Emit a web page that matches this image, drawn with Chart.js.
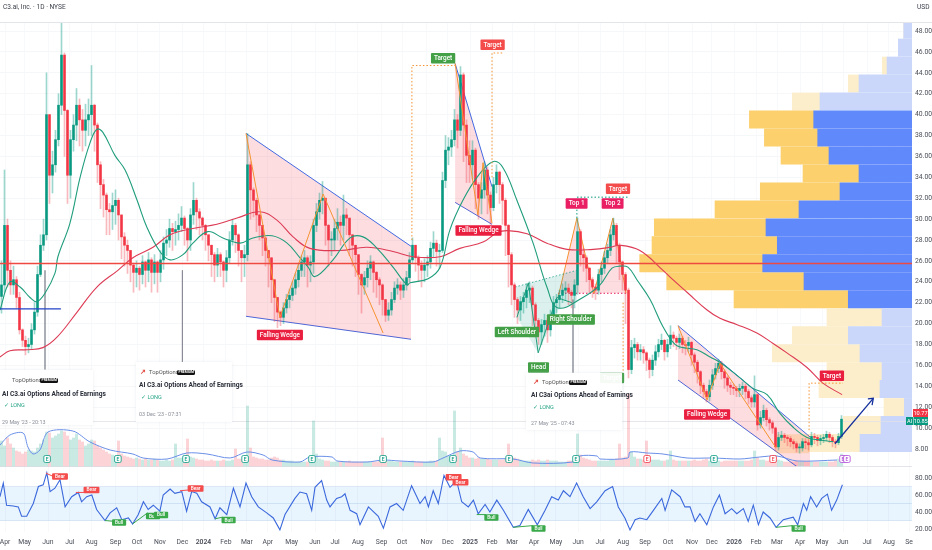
<!DOCTYPE html>
<html>
<head>
<meta charset="utf-8">
<title>C3.ai, Inc. 1D</title>
<script src="https://cdn.jsdelivr.net/npm/chart.js@4"></script>
<style>
  html, body { margin: 0; background: #fff; font-family: Roboto, "Noto Sans", sans-serif; }
  #wrap { position: relative; width: 932px; height: 550px; overflow: hidden; }
  canvas { position: absolute; left: 0; top: 0; }
  .head { position: absolute; top: 3px; font-size: 6.6px; color: #3a3e4a; white-space: nowrap; }
  .card { position: absolute; background: rgba(255,255,255,.95); box-shadow: 0 0 3px rgba(200,205,215,.35); }
  .card span { position: absolute; white-space: nowrap; }
  .who { font-size: 5.8px; color: #555; }
  .pill { font-size: 3.4px; line-height: 5px; padding: 0 1.5px; background: #111; color: #fff; border-radius: 1.5px; font-weight: 700; }
  .name { font-size: 6.6px; font-weight: 700; color: #2a2e39; }
  .side { font-size: 5.6px; color: #2aa58a; }
  .when { font-size: 5.4px; color: #8a8e99; }
  .mark { font-size: 6.5px; color: #e0483f; font-weight: 700; }
</style>
</head>
<body>
<div id="wrap">
  <canvas id="c" width="932" height="550"></canvas>
  <div class="head" style="left:3px">C3.ai, Inc. · 1D · NYSE</div>
  <div class="head" style="left:917px">USD</div>

  <div class="card" style="left:-1px;top:370px;width:94px;height:55px">
    <span class="who" style="left:13px;top:7px">TopOptions</span>
    <span class="pill" style="left:41px;top:8px">PREMIUM</span>
    <span class="name" style="left:3px;top:20px">AI C3.ai Options Ahead of Earnings</span>
    <span class="side" style="left:5px;top:32px">✓ LONG</span>
    <span class="when" style="left:3px;top:49px">29 May '23 - 20:13</span>
  </div>
  <div class="card" style="left:136px;top:362px;width:96px;height:60px">
    <span class="mark" style="left:4px;top:6px">↗</span>
    <span class="who" style="left:13px;top:7px">TopOptions</span>
    <span class="pill" style="left:41px;top:8px">PREMIUM</span>
    <span class="name" style="left:3px;top:19px">AI C3.ai Options Ahead of Earnings</span>
    <span class="side" style="left:5px;top:32px">✓ LONG</span>
    <span class="when" style="left:3px;top:49px">03 Dec '23 - 07:31</span>
  </div>
  <div class="card" style="left:526px;top:373px;width:96px;height:57px">
    <span class="mark" style="left:7px;top:5px">↗</span>
    <span class="who" style="left:16px;top:6px">TopOptions</span>
    <span class="pill" style="left:43px;top:7px">PREMIUM</span>
    <span class="name" style="left:5px;top:18px">AI C3ai Options Ahead of Earnings</span>
    <span class="side" style="left:7px;top:31px">✓ LONG</span>
    <span class="when" style="left:5px;top:47px">27 May '25 - 07:43</span>
  </div>
</div>

<script>
// x axis is in bar slots, one candle per slot
const tickSlots = [1.7,8.2,16,23.3,30.5,38.5,45.7,53.3,60.8,67.8,75.3,82.3,89.3,97.2,105,111.7,119.3,127.2,134,142.2,149.3,156.7,164,170.7,178,185.3,192.7,200,207.7,215,222.7,230.7,237.3,244.7,252,259,266.7,274,281,289,296.3,303];
const tickLabels = ['Apr','May','Jun','Jul','Aug','Sep','Oct','Nov','Dec','2024','Feb','Mar','Apr','May','Jun','Jul','Aug','Sep','Oct','Nov','Dec','2025','Feb','Mar','Apr','May','Jun','Jul','Aug','Sep','Oct','Nov','Dec','2026','Feb','Mar','Apr','May','Jun','Jul','Aug','Se'];
const priceTicks = [8,10,12,14,16,18,20,22,24,26,28,30,32,34,36,38,40,42,44,46,48];
const rsiTicks = [20,40,60,80];

const opens = [
  22.6,23.7,29.4,25.1,23.7,24.2,22.5,19.4,18.4,17.8,18,19.4,21.1,24.7,27.5,28.5,40,34.2,35.2,37.6,
  40.9,45.7,40.4,34.2,37.6,39,40.9,39.5,38.5,39.5,40,40.9,39,35.2,33.3,32.3,30.9,30.7,31.3,31.8,
  30.4,28.3,27.5,27,25.6,24.9,25.3,24.7,25.9,25.1,26.1,24.9,25.9,24.9,26.1,27.7,28,29.1,28.8,29,
  29.4,30.1,29.1,28,30.4,31.8,30.7,30.1,29.4,28.5,27.5,26.6,25.6,26.6,25.9,25.1,26.3,28,29.4,28.5,
  27,26.3,26.6,35.2,32.8,31.8,30.4,29.4,28.2,27,26.3,24.2,22.5,21.1,20.6,21.5,22.3,22.7,23.4,24.2,
  25.1,25.9,26.3,25.6,25.9,29.4,30.7,31.8,32,29.4,28,28,29.1,29.7,29.4,30.4,30.1,28.5,27.5,26.6,
  24.7,23.7,24.4,25.3,25.9,24.9,24.2,23.7,22.3,20.8,21.3,22.3,23.4,23.7,23.2,23.7,24.4,26.1,27.5,26.3,
  25.6,25.1,25.6,25.9,27.2,27.7,26.9,27,33.7,36.6,36.9,37.6,39.5,38.5,43.8,39,36.1,35.2,36.6,33.3,
  32,32.8,34.7,32.3,31.1,33.3,34.5,33.3,31.8,29.4,26.6,23.7,22.3,21.3,22.1,22.5,23.2,23.4,21.8,20.3,
  19.2,19.9,20.3,19.4,20.8,22,22.3,22.7,23.2,23.4,23,22.7,23.7,28.8,26.6,26.3,25.3,24.2,23.5,23.2,
  24.7,25.3,26.3,27,28.5,29.4,27.5,25.9,24.7,23.2,15.6,17.7,18,17.3,17.5,17.2,16.5,15.6,16.5,17.3,
  18,18.4,17.3,18,18.9,18.6,18.2,18.6,18,17.9,18.2,17,16.3,15.4,14.1,13.5,13,14.1,15.1,15.7,
  16.2,15.4,14.8,14.1,13.9,13.8,13.6,13.8,14,13.5,12.9,12.5,13.2,10.3,11,11.7,10.8,10.5,10,8.2,
  9.1,9.3,9.1,9,8.7,8.5,8.1,8.1,8.7,8.6,8.4,9.2,9.1,8.8,9,9.1,9.4,9.1,8.7,8.6,9.2
];
const highs = [
  26,34.7,30,26,25.5,24.5,23,19.5,18.8,18.6,20,22,25.5,28.5,30,44,40,36.5,38.5,42,
  48.9,45.9,40.5,38.5,40,42.5,41.5,40.5,41,41.5,44.7,41,39.2,35.5,33.8,32.5,31.5,32.5,32.8,32,
  30.4,28.7,28,27,25.8,26,25.5,26.5,26,26.8,26.3,26.6,26,27,28.3,29,30,29.6,29.8,30.5,
  31.2,30.3,29.2,31,33.5,32,31,30.2,29.5,28.5,27.5,26.8,27.2,26.8,26,27,28.8,30,29.6,28.6,
  27,27.5,38.2,35.5,33,32,30.5,29.4,28.2,27,26.3,24.2,22.5,21.2,22,22.8,23.3,24,24.8,25.8,
  26.5,27,26.5,26.5,30,31.5,32.5,33.6,32,29.5,28.8,30,31,30.3,32.3,31,30,28.5,27.5,26.5,
  24.8,25,26,26.5,26,25,24.4,23.8,22.3,22,23,24,24.3,24,24.3,25,26.8,28.2,27.5,26.5,
  26,26.2,26.5,27.8,28.8,28,27.6,34.5,38,37.8,38.5,40.5,40,44.6,44,39.5,37.5,37.5,36.8,33.5,
  33.5,35.5,35,32.6,34,35.2,34.6,33.5,32,29.5,26.8,23.9,22.5,22.6,23,23.8,24,23.6,22,20.5,
  20.4,20.9,20.5,21.3,22.6,22.8,23.2,23.8,24,23.8,23.2,24.2,30.1,29,27.2,26.5,25.4,24.4,23.8,25.2,
  25.9,26.9,27.6,29,30.1,29.6,27.7,26,24.9,23.4,18.4,18.6,18.2,18,17.8,17.3,16.7,17,17.9,18.5,
  19,18.5,18.5,19.8,19.2,18.8,19,18.8,18.4,18.7,18.3,17.2,16.5,15.5,14.3,13.7,14.6,15.6,16.2,16.6,
  16.4,15.6,15,14.4,14.2,14,14.2,14.4,14.2,13.7,13.1,15,13.3,11.6,12.2,11.9,11,10.7,10.1,9.6,
  9.7,9.5,9.3,9.2,8.9,8.7,8.5,9,9,8.9,9.6,9.5,9.3,9.3,9.4,9.7,9.6,9.3,8.9,9.5,11.2
];
const lows = [
  21,23,23.5,22.8,22.8,21.5,19,17.8,17,17.2,17.6,19,20.7,24.5,27,28,31.5,32.5,34.5,37,
  40,36,31.5,32,36.5,37.5,37,36.5,37,38,38,36.5,33.5,31,30.2,28.5,28.5,29,29.5,28,
  26.2,25.5,24.8,24,23,23.5,23.2,23.8,23.5,24,23,23.8,23,24,25.2,26.5,27.3,27,27.5,28,
  28.8,27.5,26,27,29.5,29,28.5,28,27,26,24.5,24,24.5,24.5,23.5,24,25.8,27.5,26.8,25.5,
  24,24.5,26,30,30.2,28.8,28,26.5,25.5,23.5,22,20.2,19.6,19.8,20,21,21.5,22.2,22.8,23.5,
  24.5,24.5,23.5,24,24.8,28.8,30,30.5,27.5,25.5,26.5,27,28,27.5,28,28.5,26.5,25.5,24.5,22.8,
  21,22.8,23.5,24.2,23,22.5,21.8,20.8,20.2,20.3,20.8,22,22.8,22.3,22.5,23.2,24,25.8,25,24,
  23.5,24,24.5,25.3,26.3,25.5,25.3,26.8,33,35.2,36,37,36.8,38,35.5,33.5,33.5,33.8,31,30,
  30.5,32,30.5,29.5,30.8,32.5,31.5,29.5,26.5,23.5,21.8,20.6,20,20.3,21,21.5,22,19.8,18.8,18,
  18,18.8,18.2,18.8,20,21,21.5,22,22.2,21.8,21.5,21.5,22.8,25.5,25,24,23,22.5,22.3,22.8,
  24,24.8,25.8,26.5,28,25.8,24.2,23.2,20,14.8,15.2,16.7,16.5,16.5,16.2,15.5,14.8,15,16,16.8,
  17.5,16.5,16.8,17.6,17.8,17.5,17.6,17.2,17,17.3,16,15.3,14.3,13.3,12.9,12.5,12.6,13.7,14.7,15.3,
  14.7,13.8,13.5,13.2,13.2,13,13,13.2,12.8,12.3,12,12,9.8,10,10.7,10.2,9.8,9.5,7.8,7.9,
  8.8,8.6,8.3,8.2,8,7.7,7.6,7.8,8,7.9,8.2,8.5,8.3,8.4,8.6,8.8,8.6,8.2,8.1,8.4,9
];
const closes = [
  23.7,29.4,25.1,23.7,24.2,22.5,19.4,18.4,17.8,18,19.4,21.1,24.7,27.5,28.5,40,34.2,35.2,37.6,40.9,
  45.7,40.4,34.2,37.6,39,40.9,39.5,38.5,39.5,40,40.9,39,35.2,33.3,32.3,30.9,30.7,31.3,31.8,30.4,
  28.3,27.5,27,25.6,24.9,25.3,24.7,25.9,25.1,26.1,24.9,25.9,24.9,26.1,27.7,28,29.1,28.8,29,29.4,
  30.1,29.1,28,30.4,31.8,30.7,30.1,29.4,28.5,27.5,26.6,25.6,26.6,25.9,25.1,26.3,28,29.4,28.5,27,
  26.3,26.6,35.2,32.8,31.8,30.4,29.4,28.2,27,26.3,24.2,22.5,21.1,20.6,21.5,22.3,22.7,23.4,24.2,25.1,
  25.9,26.3,25.6,25.9,29.4,30.7,31.8,32,29.4,28,28,29.1,29.7,29.4,30.4,30.1,28.5,27.5,26.6,24.7,
  23.7,24.4,25.3,25.9,24.9,24.2,23.7,22.3,20.8,21.3,22.3,23.4,23.7,23.2,23.7,24.4,26.1,27.5,26.3,25.6,
  25.1,25.6,25.9,27.2,27.7,26.9,27,33.7,36.6,36.9,37.6,39.5,38.5,43.8,39,36.1,35.2,36.6,33.3,32,
  32.8,34.7,32.3,31.1,33.3,34.5,33.3,31.8,29.4,26.6,23.7,22.3,21.3,22.1,22.5,23.2,23.4,21.8,20.3,19.2,
  19.9,20.3,19.4,20.8,22,22.3,22.7,23.2,23.4,23,22.7,23.7,28.8,26.6,26.3,25.3,24.2,23.5,23.2,24.7,
  25.3,26.3,27,28.5,29.4,27.5,25.9,24.7,23.2,15.6,17.7,18,17.3,17.5,17.2,16.5,15.6,16.5,17.3,18,
  18.4,17.3,18,18.9,18.6,18.2,18.6,18,17.9,18.2,17,16.3,15.4,14.1,13.5,13,14.1,15.1,15.7,16.2,
  15.4,14.8,14.1,13.9,13.8,13.6,13.8,14,13.5,12.9,12.5,13.2,10.3,11,11.7,10.8,10.5,10,8.2,9.1,
  9.3,9.1,9,8.7,8.5,8.1,8.1,8.7,8.6,8.4,9.2,9.1,8.8,9,9.1,9.4,9.1,8.7,8.6,9.2,10.85
];
const volumes = [
  25,20,28,22,18,15,14,12,14,16,15,14,18,22,26,34,33,28,30,32,
  35,34,30,26,28,32,26,24,20,22,26,25,20,18,16,14,12,11,10,25,
  12,10,9,8,7,8,7,6,7,6,6,7,6,5,5,6,5,6,22,8,
  8,9,27,9,8,7,6,6,5,5,6,5,5,5,6,5,5,6,17,7,
  7,8,60,18,9,8,7,7,6,6,8,9,8,6,6,5,5,5,4,4,
  4,4,4,5,45,12,7,6,5,5,4,4,4,4,4,4,5,4,4,4,
  4,4,4,4,4,4,5,28,10,5,5,4,4,4,4,4,4,5,4,4,
  4,4,4,5,5,5,28,15,14,10,9,55,14,18,12,10,8,8,7,8,
  7,7,7,6,6,6,6,6,7,22,10,8,7,6,5,5,5,6,5,6,
  5,5,6,5,5,5,4,4,4,5,5,8,32,11,8,7,6,5,5,5,
  5,5,5,6,6,7,22,8,9,72,14,9,7,7,6,25,7,6,6,6,
  5,5,6,15,6,5,5,5,5,5,5,6,5,5,6,7,5,5,5,5,
  4,5,5,5,5,5,5,5,5,5,6,15,8,6,6,5,5,5,9,6,
  5,4,4,4,4,5,4,4,4,4,4,4,4,4,4,4,4,4,5,7,12
];
const volMaSlots = [0,3.3,7.7,9.3,11,13.3,16,24.3,30,36.7,44.3,47.7,55.7,62.3,69,76.7,82.3,87.7,90.7,100,103.3,110.7,112.3,122.3,127.7,133.3,144.3,147.7,153.3,157.7,160,171,177.7,191,193.3,199,200,209.3,210,215.7,221,229,237.7,246.7,253.3,259,265.7,279];
const volMa = [21,31,33,19,12,16,34,35,24,16,12,8,7,13,12,8,14,11,6,4,9,9,5,4,6,5,4,8,15,14,8,7,3,4,10,10,7,8,14,13,12,8,8,7,9,10,5,6];

const greenMaSlots = [0,3.3,6.7,10,12.3,15,18.3,19.3,23.3,26.7,30,32.3,34.3,38.3,41.7,45.7,49,53.3,56.7,61,64.3,69.3,74.3,80,84.3,90.7,95.7,100,102.7,105,111,116.7,121,125.7,131,135.7,136.7,142.7,146.7,150,154.3,159,164.3,167.7,172.3,177.7,182.3,186,194.3,200,204,206.7,209.3,212.3,216.7,221,225,227.7,232.3,236.7,240,246.7,251,255.7,260,264.3,269,272.3,277.7];
const greenMa = [21.3,24,23.5,22.5,22.1,22.9,24.8,26.4,29.6,34,37.3,38.6,38.3,36.1,34.7,31.8,29.2,26.9,26.1,26.6,27.7,28.8,28.2,27.7,28.2,28.4,27.7,26.3,25.4,24.5,26.1,28.2,28.3,27.2,25.4,23.7,23.9,24.3,25.4,29,31.8,34,35.5,34.9,31.8,27.7,23.5,21.5,22.5,23.7,25.3,25.5,25.4,24.2,22.3,19.7,18,17.7,17.5,16.8,16.3,14.8,13.8,13.2,11.4,10.1,9.1,8.9,8.7];
const redMaSlots = [0,3.3,9,14.3,19,25.7,32.3,39.3,44.3,51,56.7,64.3,72.3,79,86.7,92.3,97.7,103.3,113.3,122.3,131,137.7,146.7,153.3,161,165.7,169.3,175.7,182.3,189,197.7,203.3,206.7,213.3,221,224.3,229,235.7,240,245.7,252.3,257.7,262.3,269,274.3,280.7];
const redMa = [16.8,17.4,17.5,17.7,18.7,21.1,23.5,25.1,26.3,27.3,28.5,29.1,29.5,30.1,30.7,29.9,28.3,27.2,27,27.3,26.9,26.4,26.4,27.2,27.8,28.7,28.9,28.6,27.7,27.1,27.1,27.3,27.5,27,25.1,24.2,23,21.3,20.5,19.9,19.1,18.1,17.2,15.8,14.3,13.2];

const rsiSlots = [
  0,1.1,2.2,4.4,6.1,7.2,8.9,11.1,12.8,14.4,15.6,16.7,18.3,20,21.7,23.9,26.1,27.2,28.9,30.6,32.2,35,36.7,38.9,40.6,42.8,44.2,46.1,47.8,49.4,51.1,53.3,54.4,56.7,58.3,60.6,62.2,63.9,65.6,67.2,70,71.7,73.3,75.6,77.8,80,82,83.9,86.1,88.9,91.1,93.3,95,98.3,
  100,102.2,103.9,105,107.2,108.9,110,112.2,113.9,115,116.7,118.9,120,122.8,126.1,127.8,130,132.2,134.4,137.2,140,141.7,142.8,144.4,146.1,148,150,152.2,153.9,156.1,157.8,159.4,161.7,163.3,165.6,167.8,171.1,173.3,176.1,179.1,181.7,183.9,186.1,187.8,190,192.2,194.4,196.7,198.9,201.7,204.2,206.1,208.3,210,
  211.7,213.3,215.6,217.8,220.6,221.7,223.9,226.7,228.3,230,231.7,233.3,235.6,237.8,239.8,241.7,243.9,245.6,247.8,249.4,251.1,252.8,254.4,256.7,258.7,261.1,264.4,265.9,267.8,268.9,270.2,272.2,273.9,275.8,277.2,278.9,280.8
];
const rsiValues = [
  58,74,48,47,46,35,35,50,70,72,86,64,68,78,46,58,63,52,58,60,43,30,39,45,31,33,26,37,52,43,48,41,60,67,62,64,41,64,62,52,46,32,45,37,68,46,74,58,46,39,33,19,37,56,
  63.5,61.5,42,69,77,54,46,56,58,61.5,42,38,25,46,35,21,46,50,42,71,50,58,46,65,50,83,69,77,52,46,54,38,49,40,54,42,22,24,43,25,42,58,54,65,58,74,58,44,52,65,70,46,33,19,
  31,33,31,42,56,42,66,58,46,46,29,38,25,46,60,38,44,38,44,29,48,25,40,33,22,31,34,25,50,42,58,46,56,61,42,54,72
];
const bearSlots = [15.3,17.8,null,25.3,28.3,null,60,63.1];
const bearRsi = [85.7,81.8,null,63,63,null,65,66];
const bullSlots = [35,38,null,44.2,49.2,null,71.7,74.2,null,158.9,162,null,171.1,177.6,null,258.7,264.2];
const bullRsi = [30,29,null,26,39,null,32,34,null,37,37,null,22,24,null,22,24];

// volume profile rows, top to bottom
const profilePrices = [48.13,46.41,44.69,42.97,41.25,39.53,37.81,36.09,34.37,32.65,30.93,29.21,27.49,25.77,24.05,22.33,20.61,18.89,17.17,15.45,13.73,12.01,10.29,8.57];
const profileUp = [8.3,13.7,25,53,92,98.3,94.3,83,53,72,113,146,134.7,149.3,108,63.7,30,63.7,52,30,32,7.7,31,52];
const profileDown = [0,0,4.7,10.7,27.7,64.3,53.3,48,56,79.7,84,111.7,125.3,123,137.3,114.3,55,56,87.7,55,61,20.3,37.7,51.7];
const valueAreaRows = [5,15];

// chart drawings, slot and price pairs
const wedgeA = { slots: [82,137], top: [38.2,27.4], bottom: [20.7,18.5] };
const wedgeAZig = { slots: [82,93.3,107.7,127.7], prices: [38.2,20.6,32.4,19.1] };
const wedgeB = { slots: [151.7,164], top: [44.9,33.1], bottom: [31.6,29.5] };
const wedgeBZig = { slots: [151.7,159.3,161,164], prices: [44.9,30.4,35.4,29.6] };
const wedgeC = { slots: [226,270], top: [19.8,9.15], bottom: [14.6,5.4] };
const wedgeCZig = { slots: [226,235.7,240,258.7], prices: [19.8,12.7,16.2,8.1] };
const headTop = { slots: [171.7,192.3], prices: [23.5,25.1] };
const headLow = { slots: [171.7,172.3,179.3,186,192.3], prices: [23.5,20.6,17.2,21.3,22.1] };
const headZig = { slots: [172.3,176.1,179.4,185.6,190.6], prices: [20.6,23.9,17.2,22.5,22] };
const topsLine = { slots: [186,192.3,198,204.3,208.7], prices: [22.5,30.1,22.9,30.1,22.9] };
const topsBase = { slots: [186,208.7], prices: [22.9,22.9] };
const targetA = { slots: [137.3,137.3,151.7], prices: [28,44.7,44.7] };
const targetB = { slots: [164,164,168], prices: [34,45.9,45.9] };
const targetTop = { slots: [192.3,192.3,209.3], prices: [30.1,32.1,32.1] };
const targetHead = { slots: [207.7,207.7], prices: [22,15.4] };
const targetC = { slots: [269.7,269.7,281], prices: [9.8,14.3,14.3] };
const boxC = { slots: [258.7,269.7], top: [9.4,9.4], bottom: [7.6,7.6] };
const arrow = { slots: [278.3,291.1], prices: [8.5,12.85] };
const arrowHead = { slots: [289.3,291.1,290.7], prices: [12.8,12.85,12.2] };
const ideaLines = [[15,25.1,15.6],[60.8,25.1,16.3],[191,22.3,15.3]];

// name, slot, price, colour
const priceNotes = [
  ['Falling Wedge',93.3,18.9,'#ea1e3f'],['Target',147.7,45.4,'#43a047'],['Target',164.2,46.7,'#f44b4b'],
  ['Falling Wedge',159.5,28.9,'#ea1e3f'],['Top 1',192.2,31.5,'#e91e63'],['Top 2',204.2,31.5,'#e91e63'],
  ['Target',206,32.9,'#f44b4b'],['Left Shoulder',172.3,19.2,'#43a047'],['Right Shoulder',190.3,20.4,'#43a047'],
  ['Head',179.5,15.8,'#43a047'],['Target',204,14.8,'#43a047'],['Falling Wedge',235.7,11.3,'#ea1e3f'],
  ['Target',277.3,15,'#ea1e3f']
];
const rsiNotes = [
  ['Bear',20,81.8,'#f44b4b'],['Bear',30.5,66,'#f44b4b'],['Bear',65.2,67.6,'#f44b4b'],['Bear',151.2,81,'#f44b4b'],['Bear',153.5,75,'#f44b4b'],
  ['Bull',39.7,27.6,'#3aa94a'],['Bull',51,35.3,'#3aa94a'],['Bull',53.7,36.5,'#3aa94a'],['Bull',76.2,30.6,'#3aa94a'],['Bull',163.8,33.5,'#3aa94a'],['Bull',179.5,20.6,'#3aa94a'],['Bull',266.2,20.6,'#3aa94a']
];
const earningsSlots = [15.7,39.3,62,81.7,104,127.7,151,169.7,192,215.7,238,257.7,281,282.3];
const earningsColors = ['#089981','#089981','#089981','#089981','#089981','#089981','#089981','#089981','#089981','#f23645','#089981','#f23645','#b04ad8','#b04ad8'];

const UP = '#089981', DOWN = '#f23645';
const BLUE = '#4169e1', ORANGE = '#f59331';

function pts(slots, values) {
  return slots.map((s, i) => ({ x: s, y: values[i] }));
}
function line(slots, values, style) {
  return Object.assign({ type: 'line', data: pts(slots, values), pointRadius: 0, borderWidth: 1, borderColor: BLUE, fill: false, order: 5 }, style);
}
function dotted(d, color) {
  return line(d.slots, d.prices, { borderColor: color, borderDash: [1.5, 2], order: 6 });
}
function wedge(w, fillColor) {
  return [
    line(w.slots, w.top, { fill: '+1', backgroundColor: fillColor, order: 30 }),
    line(w.slots, w.bottom, { order: 30 })
  ];
}

const slots = closes.map((_, i) => i + 0.5);
const isUp = closes.map((c, i) => c >= opens[i]);
const PINK = 'rgba(242,54,69,0.17)';

const datasets = [
  // candles
  { type: 'bar', data: slots.map((s, i) => ({ x: s, y: [opens[i], closes[i]] })), backgroundColor: isUp.map(u => u ? UP : DOWN), barThickness: 1.9, minBarLength: 1, grouped: false, order: 20 },
  { type: 'bar', data: slots.map((s, i) => ({ x: s, y: [lows[i], highs[i]] })), backgroundColor: isUp.map(u => u ? 'rgba(8,153,129,.4)' : 'rgba(242,54,69,.35)'), barThickness: 1, grouped: false, order: 21 },
  // moving averages
  line(greenMaSlots, greenMa, { borderColor: '#1f9d7c', tension: 0.4, borderWidth: 1.1, order: 10 }),
  line(redMaSlots, redMa, { borderColor: '#dd3b55', tension: 0.4, borderWidth: 1.1, order: 10 }),
  // levels
  line([0, 304], [25.75, 25.75], { borderColor: '#ee4a42', borderWidth: 1.7, order: 4 }),
  line([0, 20.3], [21.4, 21.4], { borderColor: '#2343c8', borderWidth: 1.2, order: 4 }),
  line([0, 304], [10.63, 10.63], { borderColor: '#dfe1e6', borderWidth: 0.8, order: 45 }),
  // wedges
  ...wedge(wedgeA, PINK),
  line(wedgeAZig.slots, wedgeAZig.prices, { borderColor: ORANGE }),
  ...wedge(wedgeB, PINK),
  line(wedgeBZig.slots, wedgeBZig.prices, { borderColor: ORANGE }),
  ...wedge(wedgeC, PINK),
  line(wedgeCZig.slots, wedgeCZig.prices, { borderColor: ORANGE }),
  // head and shoulders
  line(headTop.slots, headTop.prices, { borderColor: 'rgba(8,153,129,.7)', borderDash: [1.5, 2], fill: '+1', backgroundColor: 'rgba(8,153,129,.14)', order: 30 }),
  line(headLow.slots, headLow.prices, { borderWidth: 0, borderColor: 'transparent', order: 30 }),
  line(headZig.slots, headZig.prices, { borderColor: '#1f9d7c' }),
  // double top
  line(topsLine.slots, topsLine.prices, { borderColor: ORANGE, fill: { target: '+1', above: PINK, below: 'transparent' }, order: 30 }),
  line(topsBase.slots, topsBase.prices, { borderColor: '#e91e63', borderDash: [1.5, 2], order: 30 }),
  // targets
  dotted(targetA, ORANGE), dotted(targetB, ORANGE), dotted(targetTop, '#089981'), dotted(targetHead, ORANGE), dotted(targetC, ORANGE),
  line(boxC.slots, boxC.top, { borderWidth: 0, borderColor: 'transparent', fill: '+1', backgroundColor: 'rgba(255,152,0,.2)', order: 29 }),
  line(boxC.slots, boxC.bottom, { borderWidth: 0, borderColor: 'transparent', order: 29 }),
  line(arrow.slots, arrow.prices, { borderColor: '#14309c', borderWidth: 1.3, order: 3 }),
  line(arrowHead.slots, arrowHead.prices, { borderColor: '#14309c', borderWidth: 1.3, order: 3 }),
  ...ideaLines.map(v => line([v[0], v[0]], [v[1], v[2]], { borderColor: 'rgba(120,123,134,.55)', order: 25 })),
  // volume profile
  { type: 'bar', indexAxis: 'y', xAxisID: 'xp', yAxisID: 'y', grouped: false, barThickness: 17.3, order: 50,
    data: profilePrices.map((p, i) => ({ y: p, x: [0, profileUp[i]] })),
    backgroundColor: profilePrices.map((_, i) => i >= valueAreaRows[0] && i <= valueAreaRows[1] ? '#6089fb' : '#cad7fb') },
  { type: 'bar', indexAxis: 'y', xAxisID: 'xp', yAxisID: 'y', grouped: false, barThickness: 17.3, order: 50,
    data: profilePrices.map((p, i) => ({ y: p, x: [profileUp[i], profileUp[i] + profileDown[i]] })),
    backgroundColor: profilePrices.map((_, i) => i >= valueAreaRows[0] && i <= valueAreaRows[1] ? '#fbd06d' : '#fdeecb') },
  // volume pane
  { type: 'bar', yAxisID: 'yVol', data: pts(slots, volumes), backgroundColor: isUp.map(u => u ? 'rgba(8,153,129,.22)' : 'rgba(242,54,69,.22)'), barThickness: 2.4, grouped: false, order: 40 },
  line(volMaSlots, volMa, { yAxisID: 'yVol', borderColor: '#6a8fe8', tension: 0.3, order: 8 }),
  // rsi pane
  line([0, 304], [70, 70], { yAxisID: 'yRsi', borderColor: '#cfdcef', borderWidth: 0.6, fill: '+1', backgroundColor: 'rgba(33,150,243,.1)', order: 35 }),
  line([0, 304], [30, 30], { yAxisID: 'yRsi', borderColor: '#cfdcef', borderWidth: 0.6, order: 35 }),
  line([0, 304], [50, 50], { yAxisID: 'yRsi', borderColor: '#cfdcef', borderWidth: 0.6, order: 35 }),
  line(rsiSlots, rsiValues, { yAxisID: 'yRsi', borderColor: '#3a68dc', borderWidth: 1.1, order: 7 }),
  line(bearSlots, bearRsi, { yAxisID: 'yRsi', borderColor: '#f44b4b', order: 6 }),
  line(bullSlots, bullRsi, { yAxisID: 'yRsi', borderColor: '#3aa94a', order: 6 })
];

function tag(ctx, text, cx, cy, bg, h, size) {
  ctx.font = '500 ' + size + 'px Roboto, sans-serif';
  const w = ctx.measureText(text).width + 6;
  ctx.fillStyle = bg;
  ctx.beginPath();
  ctx.roundRect(cx - w / 2, cy - h / 2, w, h, 1);
  ctx.fill();
  ctx.fillStyle = '#fff';
  ctx.textAlign = 'center';
  ctx.textBaseline = 'middle';
  ctx.fillText(text, cx, cy + 0.3);
}

const drawings = {
  id: 'drawings',
  beforeDatasetsDraw(chart) {
    const { ctx, chartArea, scales } = chart;
    ctx.save();
    ctx.strokeStyle = '#e3e5ea';
    ctx.lineWidth = 1;
    ctx.beginPath();
    ctx.moveTo(0, chartArea.top - 0.5);
    ctx.lineTo(932, chartArea.top - 0.5);
    ctx.moveTo(0, scales.yRsi.top + 0.5);
    ctx.lineTo(912, scales.yRsi.top + 0.5);
    ctx.stroke();
    ctx.restore();
  },
  afterDatasetsDraw(chart) {
    const { ctx, scales } = chart;
    const { x, y, yRsi, yVol } = scales;
    ctx.save();
    priceNotes.forEach(n => tag(ctx, n[0], x.getPixelForValue(n[1]), y.getPixelForValue(n[2]), n[3], 10.5, 6.4));
    rsiNotes.forEach(n => tag(ctx, n[0], x.getPixelForValue(n[1]), yRsi.getPixelForValue(n[2]), n[3], 6.5, 4.8));
    earningsSlots.forEach((s, i) => {
      const cx = x.getPixelForValue(s), cy = yVol.getPixelForValue(7);
      ctx.fillStyle = '#fff';
      ctx.strokeStyle = earningsColors[i];
      ctx.lineWidth = 0.8;
      ctx.beginPath();
      ctx.roundRect(cx - 3.3, cy - 3.5, 6.6, 7, 1.5);
      ctx.fill();
      ctx.stroke();
      ctx.fillStyle = earningsColors[i];
      ctx.font = '500 5px Roboto, sans-serif';
      ctx.textAlign = 'center';
      ctx.textBaseline = 'middle';
      ctx.fillText('E', cx, cy + 0.3);
    });
    // last price tags on the axis
    ctx.fillStyle = '#f23645';
    ctx.fillRect(913, 409, 15, 8);
    ctx.fillStyle = '#089981';
    ctx.fillRect(906, 417, 7, 8);
    ctx.fillRect(913.5, 417, 14.5, 8);
    ctx.fillStyle = '#fff';
    ctx.font = '5.6px Roboto, sans-serif';
    ctx.textAlign = 'center';
    ctx.textBaseline = 'middle';
    ctx.fillText('10.77', 920.5, 413.3);
    ctx.fillText('AI', 909.5, 421.3);
    ctx.fillText('10.85', 920.7, 421.3);
    ctx.restore();
  }
};

function tickFont() {
  return { size: 6.8, family: 'Roboto, sans-serif' };
}

new Chart(document.getElementById('c'), {
  data: { datasets },
  plugins: [drawings],
  options: {
    responsive: false,
    animation: false,
    events: [],
    layout: { padding: { top: 23, left: 0, right: 0, bottom: 0 } },
    plugins: { legend: { display: false }, tooltip: { enabled: false } },
    scales: {
      x: {
        type: 'linear', min: 0, max: 304, offset: false,
        border: { display: false },
        grid: { color: '#f8f9fb', drawTicks: false, offset: false },
        afterBuildTicks: s => { s.ticks = tickSlots.map(v => ({ value: v })); },
        // first and last labels must not pull the plot area in
        afterFit: s => { s.height = 18; s.paddingLeft = 0; s.paddingRight = 0; },
        ticks: {
          autoSkip: false, maxRotation: 0, padding: 6, color: '#4a4e59',
          font: c => Object.assign(tickFont(), /^\d{4}$/.test(tickLabels[c.index]) ? { weight: '600' } : {}),
          callback: (v, i) => tickLabels[i]
        }
      },
      xp: { type: 'linear', display: false, reverse: true, min: 0, max: 912, offset: false },
      y: {
        type: 'linear', position: 'right', min: 6.37, max: 48.77, stack: 'panes', stackWeight: 443, offset: false,
        border: { display: false },
        grid: { color: '#f6f7f9', drawTicks: false, offset: false },
        afterBuildTicks: s => { s.ticks = priceTicks.map(v => ({ value: v })); },
        afterFit: s => { s.width = 20; s.paddingTop = 0; s.paddingBottom = 0; },
        ticks: { autoSkip: false, padding: 3, color: '#4a4e59', font: tickFont(), callback: v => v.toFixed(2) }
      },
      yRsi: {
        type: 'linear', position: 'right', min: 16.5, max: 94.1, stack: 'panes', stackWeight: 66, offset: false,
        border: { display: false },
        grid: { display: false },
        afterBuildTicks: s => { s.ticks = rsiTicks.map(v => ({ value: v })); },
        afterFit: s => { s.width = 20; s.paddingTop = 0; s.paddingBottom = 0; },
        ticks: { autoSkip: false, padding: -5, color: '#4a4e59', font: tickFont(), callback: v => v.toFixed(2) }
      },
      yVol: { type: 'linear', display: false, position: 'right', min: -66, max: 443, offset: false }
    }
  }
});
</script>
</body>
</html>
